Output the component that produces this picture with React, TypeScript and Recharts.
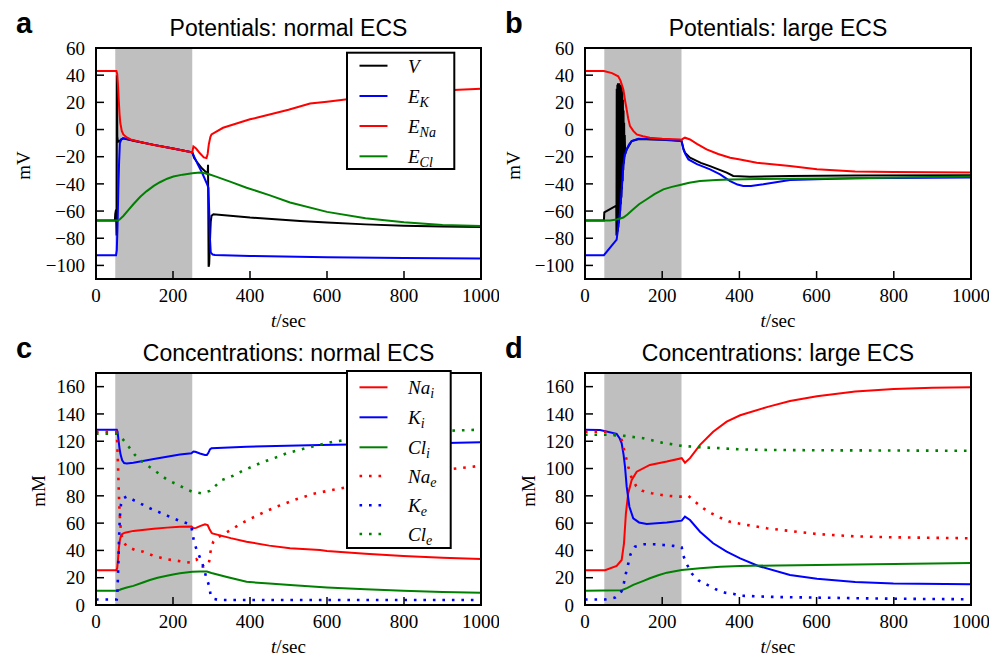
import React from 'react';
import { LineChart, Line, XAxis, YAxis, ReferenceArea } from 'recharts';

type Pt = [number, number];

const T_TICKS = [0, 200, 400, 600, 800, 1000];
const MV_TICKS = [-100, -80, -60, -40, -20, 0, 20, 40, 60];
const MM_TICKS = [0, 20, 40, 60, 80, 100, 120, 140, 160];
const T_DOMAIN: [number, number] = [0, 1000];
const MV_DOMAIN: [number, number] = [-110, 60];
const MM_DOMAIN: [number, number] = [0, 170];
const STIM_START = 50;
const STIM_END = 250;

const TITLES = [
  'Potentials: normal ECS',
  'Potentials: large ECS',
  'Concentrations: normal ECS',
  'Concentrations: large ECS',
];
const PANEL_LETTERS = ['a', 'b', 'c', 'd'];
const Y_LABELS = ['mV', 'mV', 'mM', 'mM'];

// ---------- a: potentials, normal ECS ----------
const aV: Pt[] = [[0,-67],[49,-67],[50,-62],[52,-59],[53.5,-78],[54.3,40],[55.2,-5],[57,-9],[63,-8],[70,-6.5],[100,-8.5],[150,-11.3],[200,-14],[250,-16.8],[255,-21],[265,-25],[275,-28.5],[287,-31.7],[290,-33],[291,-26],[292.5,-101],[294,-99],[296,-82],[298,-68],[300,-63.5],[305,-62.3],[400,-64.8],[530,-67.3],[600,-68.4],[700,-69.8],[800,-70.9],[900,-71.4],[1000,-71.7]];
const aEK: Pt[] = [[0,-92.5],[52,-92.5],[54,-89],[56,-70],[58,-44],[60,-24],[62,-10],[66,-7],[72,-6.5],[100,-8.3],[150,-11.3],[200,-14],[250,-16.8],[255,-20],[265,-26],[275,-31.5],[283,-36.6],[289,-40.5],[292,-43],[294,-60],[296,-80],[298,-90.4],[303,-92],[309,-92.4],[400,-93],[600,-94],[800,-94.6],[1000,-95]];
const aENa: Pt[] = [[0,43],[53,43],[55,41],[57,33],[59,22],[61,12],[63,5],[67,-1],[71,-3.6],[80,-5.8],[90,-7.3],[120,-9.5],[157,-11.7],[200,-14],[244,-16.6],[250,-16.8],[253,-12.5],[260,-14],[270,-17.5],[280,-20.5],[287,-21],[290,-18],[293,-11],[297,-5.5],[300,-3.6],[330,1.3],[400,7.5],[417,8.6],[500,14.5],[556,19.1],[600,20.5],[700,24],[800,27],[900,28.8],[1000,30]];
const aECl: Pt[] = [[0,-67],[57,-67],[62,-66],[71,-63.6],[85,-59],[97,-55],[115,-49.5],[131,-45.5],[150,-41.5],[166,-38.8],[185,-36.2],[201,-34.6],[225,-33.2],[250,-32.2],[270,-31.7],[290,-32.5],[310,-34.5],[350,-38.5],[391,-42.8],[450,-48.3],[504,-53.7],[600,-60.6],[700,-65.3],[800,-68.3],[900,-70.2],[1000,-71]];

// ---------- b: potentials, large ECS ----------
const bV: Pt[] = [[0,-67],[49,-67],[50,-61],[81,-56],[81.5,-78],[82.2,30],[83,-77],[83.8,33],[84.6,-75],[85.4,34],[86.2,-72],[87,34],[87.8,-69],[88.6,34],[89.4,-65],[90.2,33],[91,-60],[91.8,33],[92.6,-55],[93.4,32],[94.2,-50],[95,31],[95.8,-44],[96.6,28],[97.4,-38],[98.2,22],[99,-30],[99.8,14],[100.6,-25],[101.4,5],[102.2,-20],[103,-4],[104,-18],[108,-14.6],[121,-8.5],[140,-7],[200,-7.5],[250,-8.5],[255,-14],[259,-17],[272,-20.7],[300,-24.5],[324,-26.9],[367,-31.7],[384,-34.2],[427,-34.7],[531,-34.2],[700,-33.8],[1000,-33.7]];
const bEK: Pt[] = [[0,-92.5],[49,-92.5],[82,-81],[86,-72],[90.7,-61],[95,-45],[99.3,-27],[103,-19],[108,-14.6],[114,-11],[121,-8.5],[138,-6.8],[200,-7.3],[246,-8],[250,-8.5],[253,-12],[255,-14.6],[260,-18],[268,-22],[290,-25.5],[324,-29.3],[350,-33],[376,-37.9],[395,-40.5],[410,-41.6],[430,-41.5],[462,-40.3],[531,-37.2],[600,-36.5],[700,-35.8],[800,-35.6],[1000,-35.3]];
const bENa: Pt[] = [[0,43],[49,43],[70,41.5],[86,39.2],[92,36],[99.3,29.4],[104,21],[108,14.7],[112,8],[116.6,2.5],[125,-1],[134,-3.6],[150,-5],[168,-6],[200,-6.7],[246,-7.3],[250,-7.6],[255,-6.5],[259,-6],[272,-7.3],[290,-10.5],[315,-14.6],[345,-18],[376,-20.7],[402,-22],[445,-24.4],[531,-26.9],[601,-29.3],[700,-30.8],[799,-31.3],[1000,-31.7]];
const bECl: Pt[] = [[0,-67],[65,-67],[82,-66.2],[99.3,-64.8],[110,-62.5],[125,-58.7],[140,-55],[160,-51.3],[180,-47.5],[203,-44],[225,-42.2],[246,-40.8],[270,-39.2],[298,-37.9],[340,-37.2],[376,-36.7],[450,-36.4],[531,-36.2],[700,-35.8],[850,-35.2],[1000,-34.5]];

// ---------- c: concentrations, normal ECS ----------
const cNai: Pt[] = [[0,25.5],[53,25.5],[55,27],[57,33],[59,40],[61,46],[64,50],[68,52],[75,53],[97,54.3],[150,55.8],[184,56.7],[218,57.4],[248,57.5],[253,56.2],[260,56.5],[270,57.8],[283,59.1],[290,58.5],[295,55.5],[300,53],[302,52.5],[350,49],[391,46.4],[450,43.5],[504,41.5],[582,40.3],[600,39.6],[700,37.5],[798,35.9],[900,34.6],[1000,33.7]];
const cKi: Pt[] = [[0,128.5],[54,128.5],[56,127],[58,122],[61,115],[64,110],[68,106],[73,104],[80,103.7],[97,104.3],[150,107],[184,108.7],[218,110.3],[248,111.2],[253,112.4],[258,112.3],[270,111],[283,110],[288,110],[292,111.5],[296,114],[300,114.9],[391,116],[582,117.2],[700,117.7],[850,118.3],[1000,119.3]];
const cCli: Pt[] = [[0,10.5],[57,10.5],[65,11.5],[80,12.8],[97,14],[120,16.3],[140,18.3],[160,20],[184,21.5],[200,22.4],[218,23.2],[250,24.3],[270,24.6],[288,24.5],[300,23.5],[340,20.5],[391,17],[450,15.7],[504,14.7],[600,12.9],[700,11.5],[798,10.5],[900,9.6],[1000,9]];
const cNae: Pt[] = [[0,127],[53,127],[55,120],[57,104],[59,85],[61,70],[63,60],[66,51],[72,46],[80,42.8],[100,40.5],[123,39],[150,36],[184,33.5],[225,31.8],[248,31],[261,33.5],[270,30],[277,28.1],[285,28.5],[291,29.3],[294,32],[296,36.7],[300,43],[305,46.5],[313,48.9],[335,52.6],[357,56.2],[378,59.9],[400,63],[423,66.2],[445,69.1],[469,72.1],[493,74.5],[515,77],[538,79],[563,81.4],[600,83.5],[700,89],[800,94.5],[900,99],[1000,102]];
const cKe: Pt[] = [[0,4],[54,4],[56,12],[58,30],[60,50],[62,65],[65,74],[70,78],[80,79.5],[100,76.5],[140,70.9],[201,63.5],[218,61.6],[242,59.4],[248,57],[250,53.7],[254.5,46.4],[261.5,40.3],[272,33.5],[280.5,26.9],[285.7,20.8],[294,13.9],[298,6.8],[305,4.5],[318,3.7],[1000,3.7]];
const cCle: Pt[] = [[0,125.5],[54,125.5],[60,124],[71,121],[85,116],[101,110],[123,104.3],[145,100],[184,92],[227,86],[248.5,83.1],[273,81.9],[296,83.6],[313,88],[327,91.6],[357,94.8],[380,98.2],[402.6,101],[426,103.9],[449,106.3],[473.6,108.7],[495,111.2],[521,113.1],[545,114.9],[569,116.6],[616,119.7],[700,122.5],[800,125.5],[900,127.5],[1000,128.5]];

// ---------- d: concentrations, large ECS ----------
const dNai: Pt[] = [[0,25.5],[52,25.5],[82,28.6],[95,33],[101,45.2],[106,67.2],[112,81.9],[121,91.6],[134,97.7],[168,102.6],[212,105.1],[250.5,107.6],[259,104.3],[272,107.6],[298,117.3],[332,127],[367,134.4],[402,139],[471,145],[531,149.5],[601,153],[700,156.5],[800,158.3],[900,159.2],[1000,159.6]];
const dKi: Pt[] = [[0,128.5],[39,128.3],[82,125.4],[90,122],[95,118.5],[100,110],[103.6,101.4],[108,86.7],[115,72],[125,63.5],[140,60.5],[160,59.4],[212,60.4],[250.5,61.8],[259,64.8],[272,62.3],[298,53.7],[332,45.2],[367,39.1],[402,34.2],[449,28.6],[531,22],[601,19.2],[700,16.8],[799,15.8],[1000,15.2]];
const dCli: Pt[] = [[0,10.5],[95,10.8],[110,12.5],[125,14.7],[150,17.5],[168,19.6],[190,21.8],[212,23.7],[250.5,25.7],[298,26.9],[350,28],[401.6,28.6],[500,29],[601,29.3],[800,30],[1000,30.8]];
const dNae: Pt[] = [[0,127],[52,127],[82,124.6],[95,121],[103.6,111.2],[112,101.4],[121,92.9],[133,87],[147,83.8],[173,81.9],[199,80.6],[220,79.9],[246,79.4],[256,79.5],[268,79.9],[285,75.7],[306.5,70.9],[328,67.2],[350,64],[374,61.1],[402,59.5],[471,56.2],[601,52],[700,50.3],[799,49.6],[1000,48.9]];
const dKe: Pt[] = [[0,4],[52,4],[78,5.4],[90,8],[95,10.3],[101,16.4],[106,23.2],[112,30.1],[118,37.2],[129.5,42.7],[154,44.5],[179,44.5],[203,44],[229,43.3],[250.5,42.3],[255,35.9],[265,29.3],[276,23.2],[295,17.8],[317,14.7],[339,11.5],[363,9],[386,8.1],[402,6.8],[500,5.8],[601,5.4],[800,4.6],[1000,4.2]];
const dCle: Pt[] = [[0,124.8],[52,124.8],[103.6,123.9],[151,122.2],[199,119],[250.5,116.6],[298,115.6],[350,114.9],[396,114.1],[471,113.6],[600,113.4],[800,113.2],[1000,113]];

interface Series {
  base: string;
  sub: string;
  color: string;
  dotted: boolean;
  data: Pt[];
}

const RED = '#ff0000';
const BLUE = '#0000ff';
const GREEN = '#008000';
const BLACK = '#000000';

const SERIES_A: Series[] = [
  { base: 'V', sub: '', color: BLACK, dotted: false, data: aV },
  { base: 'E', sub: 'K', color: BLUE, dotted: false, data: aEK },
  { base: 'E', sub: 'Na', color: RED, dotted: false, data: aENa },
  { base: 'E', sub: 'Cl', color: GREEN, dotted: false, data: aECl },
];
const SERIES_B: Series[] = [
  { base: 'V', sub: '', color: BLACK, dotted: false, data: bV },
  { base: 'E', sub: 'K', color: BLUE, dotted: false, data: bEK },
  { base: 'E', sub: 'Na', color: RED, dotted: false, data: bENa },
  { base: 'E', sub: 'Cl', color: GREEN, dotted: false, data: bECl },
];
const SERIES_C: Series[] = [
  { base: 'Na', sub: 'i', color: RED, dotted: false, data: cNai },
  { base: 'K', sub: 'i', color: BLUE, dotted: false, data: cKi },
  { base: 'Cl', sub: 'i', color: GREEN, dotted: false, data: cCli },
  { base: 'Na', sub: 'e', color: RED, dotted: true, data: cNae },
  { base: 'K', sub: 'e', color: BLUE, dotted: true, data: cKe },
  { base: 'Cl', sub: 'e', color: GREEN, dotted: true, data: cCle },
];
const SERIES_D: Series[] = [
  { base: 'Na', sub: 'i', color: RED, dotted: false, data: dNai },
  { base: 'K', sub: 'i', color: BLUE, dotted: false, data: dKi },
  { base: 'Cl', sub: 'i', color: GREEN, dotted: false, data: dCli },
  { base: 'Na', sub: 'e', color: RED, dotted: true, data: dNae },
  { base: 'K', sub: 'e', color: BLUE, dotted: true, data: dKe },
  { base: 'Cl', sub: 'e', color: GREEN, dotted: true, data: dCle },
];

const SERIF = 'Liberation Serif';
const SANS = 'Liberation Sans';
const DOT_DASH = '2.6 6.9';

const fmt = (v: number) => (v < 0 ? `\u2212${Math.abs(v)}` : `${v}`);

// plot rectangles [left, top, right, bottom]
const RECTS: [number, number, number, number][] = [
  [96, 48, 481, 279],
  [585, 48, 971, 279],
  [96, 373, 481, 605],
  [585, 373, 971, 605],
];
const Y_LABEL_X = [30, 520, 45, 535];

const ML = 50, MR = 8, MT = 30, MB = 40;
const YLW = 40, YRW = 10, XTH = 10, XBH = 20;

function XTick(props: any) {
  const { x, y, payload } = props;
  return (
    <text x={x} y={y} dy={13.5} textAnchor="middle" fontFamily={SERIF} fontSize={19} fill="#000">{fmt(payload.value)}</text>
  );
}
function YTick(props: any) {
  const { x, y, payload } = props;
  return (
    <text x={x} y={y} dy={6.7} textAnchor="end" fontFamily={SERIF} fontSize={19} fill="#000">{fmt(payload.value)}</text>
  );
}

function Panel({ rect, series, yTicks, yDomain }: { rect: [number, number, number, number]; series: Series[]; yTicks: number[]; yDomain: [number, number] }) {
  const [x0, y0, x1, y1] = rect;
  const width = x1 - x0 + ML + YLW + MR + YRW;
  const height = y1 - y0 + MT + XTH + MB + XBH;
  const axisLine = { stroke: '#000', strokeWidth: 2, strokeLinecap: 'square' as const };
  const tickLine = { stroke: '#000', strokeWidth: 1.5 };
  return (
    <div style={{ position: 'absolute', left: x0 - ML - YLW, top: y0 - MT - XTH, fontFamily: SERIF }}>
      <LineChart width={width} height={height} margin={{ top: MT, right: MR, bottom: MB, left: ML }}>
        <XAxis xAxisId="b" type="number" dataKey="t" domain={T_DOMAIN} ticks={T_TICKS} interval={0}
          height={XBH} tickSize={-8} tickMargin={17} tick={<XTick />} axisLine={axisLine} tickLine={tickLine} allowDataOverflow />
        <XAxis xAxisId="t" orientation="top" type="number" dataKey="t" domain={T_DOMAIN} ticks={T_TICKS} interval={0}
          height={XTH} tickSize={-8} tick={false} axisLine={axisLine} tickLine={tickLine} allowDataOverflow />
        <YAxis yAxisId="l" type="number" domain={yDomain} ticks={yTicks} interval={0}
          width={YLW} tickSize={-8} tickMargin={19} tick={<YTick />} axisLine={axisLine} tickLine={tickLine} allowDataOverflow />
        <YAxis yAxisId="r" orientation="right" type="number" domain={yDomain} ticks={yTicks} interval={0}
          width={YRW} tickSize={-8} tick={false} axisLine={axisLine} tickLine={tickLine} allowDataOverflow />
        <ReferenceArea xAxisId="b" yAxisId="l" x1={STIM_START} x2={STIM_END} fill="#bfbfbf" fillOpacity={1} stroke="none" />
        {series.map((s, i) => (
          <Line
            key={i}
            xAxisId="b"
            yAxisId="l"
            data={s.data.map(([t, v]) => ({ t, v }))}
            dataKey="v"
            type="linear"
            stroke={s.color}
            strokeWidth={s.dotted ? 2.6 : 2}
            strokeDasharray={s.dotted ? DOT_DASH : undefined}
            dot={false}
            activeDot={false}
            isAnimationActive={false}
          />
        ))}
      </LineChart>
    </div>
  );
}

function LegendBox({ x, y, w, h, rows, series }: { x: number; y: number; w: number; h: number; rows: number[]; series: Series[] }) {
  return (
    <g>
      <rect x={x} y={y} width={w} height={h} fill="#fff" stroke="#000" strokeWidth={2} />
      {series.map((s, i) => (
        <g key={i}>
          <line x1={x + 12.5} x2={x + 40.5} y1={y + rows[i]} y2={y + rows[i]} stroke={s.color}
            strokeWidth={s.dotted ? 2.6 : 2} strokeDasharray={s.dotted ? DOT_DASH : undefined} />
          <text x={x + 61} y={y + rows[i] + 7} fontFamily={SERIF} fontStyle="italic" fontSize={19} fill="#000">
            {s.base}
            {s.sub ? <tspan fontSize={14} dy={4}>{s.sub}</tspan> : null}
          </text>
        </g>
      ))}
    </g>
  );
}

export default function App() {
  return (
    <div style={{ position: 'absolute', left: 0, top: 0, width: 1003, height: 657, background: '#fff', overflow: 'hidden' }}>
      <Panel rect={RECTS[0]} series={SERIES_A} yTicks={MV_TICKS} yDomain={MV_DOMAIN} />
      <Panel rect={RECTS[1]} series={SERIES_B} yTicks={MV_TICKS} yDomain={MV_DOMAIN} />
      <Panel rect={RECTS[2]} series={SERIES_C} yTicks={MM_TICKS} yDomain={MM_DOMAIN} />
      <Panel rect={RECTS[3]} series={SERIES_D} yTicks={MM_TICKS} yDomain={MM_DOMAIN} />
      <svg width={1003} height={657} style={{ position: 'absolute', left: 0, top: 0, pointerEvents: 'none' }}>
        {RECTS.map((r, i) => {
          const cx = (r[0] + r[2]) / 2;
          const cy = (r[1] + r[3]) / 2;
          return (
            <g key={i}>
              <text x={i % 2 === 0 ? 16 : 505} y={r[1] - 15} fontFamily={SANS} fontWeight="bold" fontSize={29} fill="#000">{PANEL_LETTERS[i]}</text>
              <text x={cx} y={r[1] - 12} textAnchor="middle" fontFamily={SANS} fontSize={23} fill="#000">{TITLES[i]}</text>
              <text x={cx} y={r[3] + 48} textAnchor="middle" fontFamily={SERIF} fontSize={19} fill="#000">
                <tspan fontStyle="italic">t</tspan>/sec
              </text>
              <text transform={`translate(${Y_LABEL_X[i]},${cy + 2}) rotate(-90)`} textAnchor="middle" fontFamily={SERIF} fontSize={19} fill="#000">{Y_LABELS[i]}</text>
            </g>
          );
        })}
        <LegendBox x={347} y={52.7} w={107.3} h={116.3} rows={[13, 43.3, 73.3, 103.6]} series={SERIES_A} />
        <LegendBox x={347} y={371} w={103.7} h={177} rows={[16.3, 46.3, 76.3, 105, 134.3, 163]} series={SERIES_C} />
      </svg>
    </div>
  );
}
